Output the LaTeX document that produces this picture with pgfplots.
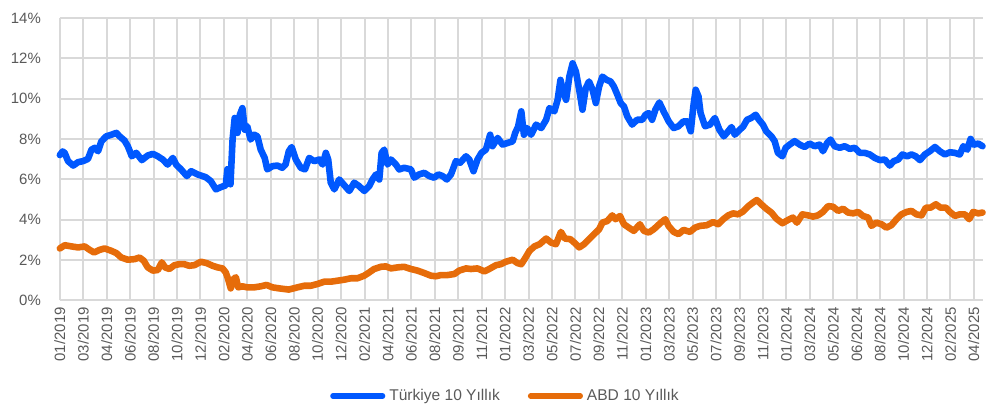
\documentclass[border=0pt]{standalone}
\usepackage{pgfplots}
\pgfplotsset{compat=1.18}
\usepackage{fontspec}
\setmainfont{Liberation Sans}
\definecolor{tblue}{RGB}{0,88,255}
\definecolor{aorange}{RGB}{230,108,10}
\definecolor{gridgray}{RGB}{217,217,217}
\definecolor{labgray}{RGB}{89,89,89}
\begin{document}
\begin{tikzpicture}
\path (-30pt,-52.5pt) rectangle (463pt,150.5pt);
\begin{axis}[
  scale only axis,
  width=462.5pt, height=141.5pt,
  xmin=0, xmax=39.37,
  ymin=0, ymax=14,
  axis line style={draw=none},
  major tick length=0pt,
  grid=major,
  major grid style={gridgray, line width=1pt},
  ytick={0,2,4,6,8,10,12,14},
  yticklabels={0\%,2\%,4\%,6\%,8\%,10\%,12\%,14\%},
  xtick={0,1,...,39},
  xticklabels={01/2019,03/2019,04/2019,06/2019,08/2019,10/2019,12/2019,02/2020,04/2020,06/2020,08/2020,10/2020,12/2020,02/2021,04/2021,06/2021,08/2021,09/2021,11/2021,01/2022,03/2022,05/2022,07/2022,09/2022,11/2022,01/2023,03/2023,05/2023,07/2023,09/2023,11/2023,01/2024,03/2024,05/2024,06/2024,08/2024,10/2024,12/2024,02/2025,04/2025},
  tick label style={font=\fontsize{7.5}{9}\selectfont, text=labgray},
  xticklabel style={rotate=90, anchor=east},
  yticklabel style={xshift=-6pt},
  legend style={at={(0.484,-0.339)}, anchor=center, draw=none, fill=none,
    font=\fontsize{7.8}{9}\selectfont, text=labgray,
    /tikz/every even column/.append style={column sep=12pt}},
  legend columns=2,
  legend image code/.code={\draw[#1, line width=2.6pt, line cap=round] (0pt,0pt) -- (25pt,0pt);},
  every axis plot/.append style={line width=3.3pt, line join=round, line cap=round},
  clip=false,
]
\addplot[tblue] coordinates {
(0.00,7.20)(0.12,7.38)(0.21,7.30)(0.35,6.90)(0.57,6.68)(0.78,6.85)(0.99,6.90)(1.20,7.01)(1.35,7.47)(1.49,7.56)(1.63,7.39)(1.77,7.88)(1.98,8.13)(2.20,8.21)(2.41,8.30)(2.55,8.13)(2.76,7.92)(2.90,7.64)(3.07,7.14)(3.26,7.31)(3.50,6.95)(3.75,7.18)(3.97,7.26)(4.18,7.14)(4.39,6.98)(4.60,6.73)(4.82,7.06)(4.96,6.73)(5.17,6.49)(5.42,6.16)(5.60,6.40)(5.88,6.24)(6.23,6.10)(6.44,5.91)(6.66,5.50)(6.87,5.61)(7.08,5.70)(7.15,6.50)(7.22,6.40)(7.28,5.75)(7.37,7.97)(7.46,9.04)(7.58,8.30)(7.68,9.20)(7.79,9.53)(7.89,8.46)(8.00,8.62)(8.14,7.97)(8.29,8.21)(8.43,8.13)(8.57,7.47)(8.74,7.06)(8.85,6.49)(9.07,6.65)(9.28,6.68)(9.49,6.57)(9.63,6.73)(9.77,7.39)(9.89,7.60)(10.07,6.98)(10.28,6.57)(10.46,6.49)(10.64,7.06)(10.85,6.90)(11.07,6.98)(11.21,6.73)(11.35,7.31)(11.45,6.98)(11.56,5.83)(11.71,5.50)(11.92,5.99)(12.11,5.74)(12.35,5.42)(12.56,5.83)(12.77,5.66)(12.99,5.42)(13.20,5.66)(13.34,5.99)(13.49,6.24)(13.63,5.99)(13.73,7.31)(13.84,7.47)(13.98,6.73)(14.13,6.98)(14.34,6.73)(14.48,6.49)(14.69,6.57)(14.98,6.49)(15.12,6.08)(15.33,6.24)(15.55,6.32)(15.76,6.16)(15.97,6.08)(16.15,6.24)(16.33,6.16)(16.51,5.99)(16.69,6.24)(16.90,6.90)(17.08,6.82)(17.33,7.14)(17.47,6.98)(17.65,6.40)(17.82,6.98)(17.99,7.31)(18.18,7.47)(18.36,8.21)(18.46,7.64)(18.68,8.05)(18.89,7.72)(19.10,7.80)(19.32,7.88)(19.43,8.30)(19.55,8.60)(19.69,9.37)(19.80,8.21)(19.94,8.54)(20.11,8.21)(20.32,8.71)(20.54,8.54)(20.75,8.95)(20.89,9.53)(21.10,9.37)(21.24,9.94)(21.36,10.93)(21.50,10.27)(21.60,9.94)(21.74,11.09)(21.88,11.75)(22.02,11.34)(22.16,10.44)(22.30,9.45)(22.44,10.52)(22.58,10.85)(22.73,10.44)(22.87,9.78)(23.01,10.60)(23.15,11.09)(23.33,10.93)(23.50,10.85)(23.64,10.60)(23.79,10.19)(23.93,9.78)(24.07,9.61)(24.21,9.12)(24.42,8.71)(24.63,8.95)(24.85,8.95)(24.99,9.20)(25.13,9.28)(25.27,8.95)(25.41,9.45)(25.58,9.81)(25.76,9.37)(25.98,8.87)(26.19,8.54)(26.40,8.63)(26.61,8.87)(26.78,8.87)(26.92,8.38)(27.03,9.61)(27.13,10.44)(27.25,10.11)(27.34,9.28)(27.53,8.63)(27.74,8.71)(27.95,9.04)(28.14,8.46)(28.33,8.13)(28.52,8.38)(28.66,8.59)(28.80,8.21)(29.01,8.46)(29.15,8.60)(29.32,8.95)(29.50,9.04)(29.69,9.20)(29.83,8.95)(30.00,8.71)(30.14,8.38)(30.36,8.13)(30.50,7.89)(30.64,7.31)(30.83,7.14)(30.97,7.56)(31.14,7.72)(31.35,7.89)(31.57,7.72)(31.78,7.60)(31.99,7.77)(32.21,7.64)(32.42,7.72)(32.56,7.39)(32.74,7.80)(32.88,7.97)(33.06,7.64)(33.28,7.56)(33.49,7.64)(33.70,7.51)(33.92,7.56)(34.13,7.31)(34.34,7.31)(34.56,7.23)(34.77,7.06)(34.99,6.95)(35.20,6.98)(35.41,6.68)(35.58,6.90)(35.77,6.98)(35.95,7.23)(36.15,7.14)(36.34,7.23)(36.52,7.14)(36.70,6.95)(36.91,7.23)(37.12,7.39)(37.34,7.60)(37.55,7.39)(37.76,7.23)(37.98,7.34)(38.19,7.31)(38.40,7.23)(38.55,7.64)(38.72,7.47)(38.86,8.00)(39.00,7.72)(39.19,7.77)(39.37,7.64)
};
\addlegendentry{Türkiye 10 Yıllık}
\addplot[aorange] coordinates {
(0.00,2.57)(0.21,2.73)(0.50,2.67)(0.78,2.62)(1.06,2.67)(1.27,2.50)(1.46,2.37)(1.70,2.50)(1.91,2.57)(2.20,2.45)(2.41,2.34)(2.62,2.12)(2.90,2.01)(3.19,2.04)(3.40,2.12)(3.58,1.96)(3.75,1.63)(3.97,1.47)(4.18,1.50)(4.35,1.88)(4.49,1.63)(4.67,1.55)(4.89,1.74)(5.10,1.79)(5.31,1.79)(5.52,1.71)(5.74,1.74)(6.02,1.91)(6.27,1.84)(6.52,1.71)(6.73,1.63)(6.94,1.58)(7.08,1.38)(7.18,1.05)(7.29,0.59)(7.41,1.05)(7.51,1.14)(7.61,0.64)(7.79,0.69)(8.00,0.64)(8.29,0.64)(8.57,0.69)(8.82,0.76)(9.07,0.64)(9.35,0.59)(9.56,0.56)(9.77,0.53)(10.14,0.64)(10.43,0.72)(10.71,0.72)(11.00,0.81)(11.28,0.92)(11.56,0.92)(11.85,0.97)(12.13,1.02)(12.42,1.09)(12.70,1.09)(12.99,1.22)(13.20,1.38)(13.41,1.55)(13.70,1.66)(13.91,1.68)(14.13,1.58)(14.41,1.63)(14.69,1.66)(14.98,1.55)(15.26,1.47)(15.55,1.35)(15.83,1.22)(16.05,1.19)(16.26,1.25)(16.54,1.25)(16.83,1.30)(17.04,1.47)(17.33,1.58)(17.54,1.55)(17.82,1.58)(18.11,1.43)(18.32,1.55)(18.61,1.74)(18.82,1.79)(19.03,1.91)(19.32,2.01)(19.53,1.84)(19.69,1.79)(19.83,2.04)(20.04,2.45)(20.25,2.67)(20.47,2.78)(20.75,3.06)(20.96,2.86)(21.17,2.78)(21.38,3.39)(21.55,3.06)(21.78,3.03)(21.95,2.86)(22.16,2.62)(22.37,2.78)(22.58,3.03)(22.80,3.28)(23.01,3.52)(23.15,3.85)(23.36,3.93)(23.57,4.21)(23.71,4.02)(23.90,4.18)(24.07,3.77)(24.28,3.60)(24.49,3.44)(24.75,3.77)(24.92,3.44)(25.13,3.36)(25.34,3.52)(25.62,3.82)(25.83,4.02)(25.97,3.69)(26.19,3.39)(26.40,3.28)(26.61,3.49)(26.89,3.39)(27.10,3.60)(27.32,3.69)(27.60,3.72)(27.88,3.88)(28.09,3.77)(28.31,4.02)(28.52,4.21)(28.73,4.31)(28.94,4.26)(29.15,4.40)(29.36,4.65)(29.57,4.84)(29.74,4.97)(29.93,4.76)(30.14,4.54)(30.36,4.35)(30.57,4.05)(30.83,3.82)(31.07,3.98)(31.28,4.10)(31.45,3.85)(31.68,4.26)(31.92,4.21)(32.14,4.15)(32.35,4.21)(32.56,4.38)(32.78,4.67)(32.99,4.64)(33.21,4.43)(33.42,4.54)(33.63,4.35)(33.85,4.31)(34.06,4.38)(34.27,4.18)(34.49,4.10)(34.63,3.69)(34.84,3.85)(35.06,3.77)(35.27,3.60)(35.48,3.72)(35.70,4.02)(35.91,4.26)(36.13,4.38)(36.34,4.43)(36.55,4.26)(36.77,4.21)(36.95,4.59)(37.15,4.59)(37.38,4.76)(37.58,4.59)(37.81,4.59)(37.98,4.38)(38.19,4.18)(38.40,4.26)(38.62,4.26)(38.80,4.02)(38.97,4.38)(39.19,4.31)(39.37,4.35)
};
\addlegendentry{ABD 10 Yıllık}
\end{axis}
\end{tikzpicture}
\end{document}
